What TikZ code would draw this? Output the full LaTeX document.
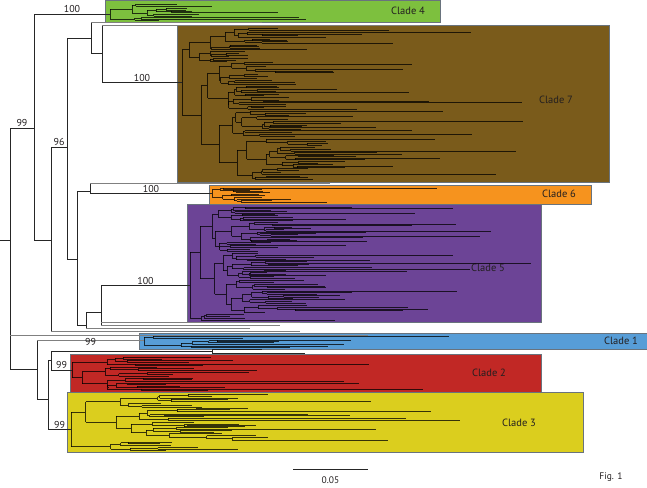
\documentclass[tikz,border=0pt]{standalone}
\usepackage{fontspec}
\setmainfont{PT Sans}
\definecolor{cfour}{RGB}{125,192,62}
\definecolor{cseven}{RGB}{122,91,27}
\definecolor{csix}{RGB}{246,147,30}
\definecolor{cfive}{RGB}{108,68,150}
\definecolor{cone}{RGB}{87,157,215}
\definecolor{ctwo}{RGB}{193,40,37}
\definecolor{cthree}{RGB}{219,206,30}
\definecolor{edgecol}{RGB}{105,115,125}
\definecolor{txt}{RGB}{35,31,32}
\tikzset{
  leaf/.style={draw=black, draw opacity=0.75, line width=0.65pt},
  bb/.style={draw=black!85, line width=0.75pt},
  gl/.style={draw=black!50, line width=1pt},
  cladebox/.style={draw=edgecol, line width=0.7pt},
  lab/.style={font=\fontsize{10}{12}\selectfont, text=txt, inner sep=0.8pt, above},
  cladelab/.style={font=\fontsize{10.5}{12}\selectfont, text=txt, inner sep=0pt},
}
\newcommand\setclade[5]{\def\cdx{#1}\def\clmin{#2}\def\clrng{#3}\def\cthr{#4}\def\cxmax{#5}}
\newcommand\subtree[3]{%
  \begingroup
  \pgfmathsetmacro\hh{#3-#2}%
  \ifdim\hh pt<\cthr pt\relax
    \pgfmathsetmacro\yy{(#2+#3)/2}%
    \pgfmathsetmacro\rr{rnd}%
    \pgfmathsetmacro\tlen{min(\clmin*(0.5+rnd)+\clrng*\rr*\rr*\rr*\rr,\cxmax-#1)}%
    \draw[leaf] (#1,\yy) -- ++(\tlen,0);%
    \xdef\subtreeY{\yy}%
  \else
    \pgfmathsetmacro\xx{#1+\cdx*rnd}%
    \pgfmathsetmacro\ymid{#2+(0.25+0.5*rnd)*\hh}%
    \edef\tnext{\noexpand\subtree{\xx}{#2}{\ymid}}\tnext
    \let\ya\subtreeY
    \edef\tnext{\noexpand\subtree{\xx}{\ymid}{#3}}\tnext
    \let\yb\subtreeY
    \pgfmathsetmacro\yy{(\ya+\yb)/2}%
    \draw[leaf] (#1,\yy) -- (\xx,\yy) (\xx,\ya) -- (\xx,\yb);%
    \xdef\subtreeY{\yy}%
  \fi
  \endgroup}
\newcommand\clade[5]{%
  \subtree{#1}{#2}{#3}\let\cya\subtreeY
  \subtree{#1}{#3}{#4}\let\cyb\subtreeY
  \draw[leaf] (#1,\cya) -- (#1,\cyb);
  \pgfmathsetmacro\cyy{(\cya+\cyb)/2}%
  \coordinate (#5) at (#1,\cyy);}
\begin{document}
\begin{tikzpicture}[x=1pt,y=-1pt]
\useasboundingbox (0,0) rectangle (647,487);
\pgfmathsetseed{7}
% clade boxes
\filldraw[cladebox, fill=cfour]  (105,0)   rectangle (440,22);
\filldraw[cladebox, fill=cseven] (177,25)  rectangle (609,182);
\filldraw[cladebox, fill=csix]   (209,185) rectangle (591,204);
\filldraw[cladebox, fill=cfive]  (187,204) rectangle (541,322);
\filldraw[cladebox, fill=cone]   (139,333) rectangle (647,349);
\filldraw[cladebox, fill=ctwo]   (70,354)  rectangle (541,392);
\filldraw[cladebox, fill=cthree] (67,392)  rectangle (583,452);
% clade labels
\node[cladelab] (t4) at (408,11)  {Clade 4};
\node[cladelab] (t7) at (556,100) {Clade 7};
\node[cladelab] (t6) at (559,194) {Clade 6};
\node[cladelab] (t5) at (488,268) {Clade 5};
\node[cladelab] (t1) at (621,341) {Clade 1};
\node[cladelab] (t2) at (489,373) {Clade 2};
\node[cladelab] (t3) at (519,423) {Clade 3};
% clade subtrees
\setclade{25}{30}{200}{2.5}{430}\clade{110}{3}{17}{21}{c4}
\setclade{22}{25}{280}{2.6}{600}\clade{182}{28}{62}{180}{c7}
\setclade{25}{30}{200}{2.5}{580}\clade{212}{187}{193}{203}{c6}
\setclade{20}{30}{230}{2.4}{535}\clade{190}{206}{314}{321}{c5}
\setclade{60}{90}{320}{2.5}{600}\clade{144}{335}{339}{348}{c1}
\setclade{35}{45}{260}{2.5}{535}\clade{72}{356}{366}{391}{c2}
\setclade{40}{40}{260}{2.6}{575}\clade{71}{394}{441}{451}{c3}
% backbone nodes
\coordinate (stem) at (0,240);
\coordinate (root) at (10,240);
\coordinate (nA)  at (34,128);
\coordinate (nA2) at (51,240);
\coordinate (nC)  at (67,147);
\coordinate (nD)  at (91,38);
\coordinate (nD2) at (102,53);
\coordinate (nE)  at (77,259);
\coordinate (nF)  at (90,191);
\coordinate (nG)  at (86,325);
\coordinate (nH)  at (101,312);
\coordinate (nB)  at (37,369);
\coordinate (nB2) at (48,399);
\coordinate (nB3) at (51,360);
\coordinate (nS)  at (212,351);
% free leaf ends
\coordinate (lR)  at (368,335);
\coordinate (lA2) at (300,331);
\coordinate (lD)  at (262,22.5);
\coordinate (lD2) at (420,25.5);
\coordinate (lF)  at (330,183);
\coordinate (lG)  at (250,328);
\coordinate (lH)  at (300,322);
\coordinate (lH2) at (280,325);
\coordinate (lS1) at (262,349);
\coordinate (lS2) at (305,353);
% backbone
\draw[bb] (stem) -- (root);
\draw[bb] (root |- nA) -- (root |- nB);
\draw[bb] (root |- nA) -- (nA) node[midway,lab] {99};
\draw[gl] (root |- lR) -- (lR);
\draw[bb] (root |- nB) -- (nB);
\draw[bb] (nA |- c4) -- (nA |- nA2);
\draw[bb] (nA |- c4) -- (c4) node[midway,lab] {100};
\draw[bb] (nA |- nA2) -- (nA2);
\draw[bb] (nA2 |- nC) -- (nA2 |- lA2);
\draw[bb] (nA2 |- nC) -- (nC) node[midway,lab] {96};
\draw[gl] (nA2 |- lA2) -- (lA2);
\draw[bb] (nC |- nD) -- (nC |- nE);
\draw[bb] (nC |- nD) -- (nD);
\draw[bb] (nC |- nE) -- (nE);
\draw[bb] (nD |- lD) -- (nD |- nD2);
\draw[gl] (nD |- lD) -- (lD);
\draw[bb] (nD |- nD2) -- (nD2);
\draw[bb] (nD2 |- lD2) -- (nD2 |- c7);
\draw[gl] (nD2 |- lD2) -- (lD2);
\draw[bb] (nD2 |- c7) -- (c7) node[midway,lab] {100};
\draw[bb] (nE |- nF) -- (nE |- nG);
\draw[bb] (nE |- nF) -- (nF);
\draw[bb] (nE |- nG) -- (nG);
\draw[bb] (nF |- lF) -- (nF |- c6);
\draw[gl] (nF |- lF) -- (lF);
\draw[bb] (nF |- c6) -- (c6) node[midway,lab] {100};
\draw[bb] (nG |- nH) -- (nG |- lG);
\draw[bb] (nG |- nH) -- (nH);
\draw[gl] (nG |- lG) -- (lG);
\draw[bb] (nH |- c5) -- (nH |- lH2);
\draw[bb] (nH |- c5) -- (c5) node[midway,lab] {100};
\draw[gl] (nH |- lH) -- (lH);
\draw[gl] (nH |- lH2) -- (lH2);
\draw[bb] (nB |- c1) -- (nB |- nB2);
\draw[gl] (nB |- c1) -- (c1) node[midway,lab,anchor=center,yshift=-1.5pt] {99};
\draw[bb] (nB |- nB2) -- (nB2);
\draw[bb] (nB2 |- nB3) -- (nB2 |- c3);
\draw[bb] (nB2 |- nB3) -- (nB3);
\draw[bb] (nB2 |- c3) -- (c3) node[midway,lab] {99};
\draw[bb] (nB3 |- nS) -- (nB3 |- c2);
\draw[bb] (nB3 |- nS) -- (nS);
\draw[bb] (nB3 |- c2) -- (c2) node[midway,lab] {99};
\draw[bb] (nS |- lS1) -- (nS |- lS2);
\draw[bb] (nS |- lS1) -- (lS1);
\draw[bb] (nS |- lS2) -- (lS2);
% scale bar and caption
\coordinate (sb1) at (293,469);
\coordinate (sb2) at (368,469);
\draw[bb] (sb1) -- (sb2);
\node[cladelab, font=\fontsize{9.5}{11}\selectfont] (sbl) at (330.5,480) {0.05};
\node[cladelab, font=\fontsize{9.5}{11}\selectfont] (fig) at (611,477) {Fig. 1};
\end{tikzpicture}
\end{document}
